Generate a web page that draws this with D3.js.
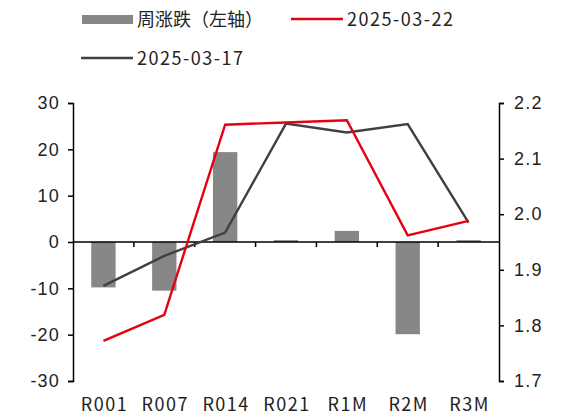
<!DOCTYPE html>
<html lang="zh">
<head>
<meta charset="UTF-8">
<title>周涨跌</title>
<style>
  body { margin: 0; background: #fff; }
  svg { display: block; font-family: "Noto Sans CJK SC", "Noto Sans", sans-serif; }
  .axis path, .axis line { stroke: #000; stroke-width: 1.5; }
  .axis text { font-size: 18px; fill: #222; letter-spacing: 1.2px; }
  .lat { letter-spacing: 1.5px; }
</style>
</head>
<body>
<svg width="561" height="416"></svg>
<script src="https://d3js.org/d3.v7.min.js"></script>
<script>
const categories = ["R001", "R007", "R014", "R021", "R1M", "R2M", "R3M"];
const weeklyChange = [-9.8, -10.5, 19.4, 0.4, 2.4, -19.9, 0.4];
const rate0322 = [1.772, 1.819, 2.161, 2.165, 2.169, 1.962, 1.988];
const rate0317 = [1.871, 1.925, 1.967, 2.163, 2.147, 2.162, 1.985];
const leftTicks = [-30, -20, -10, 0, 10, 20, 30];
const rightTicks = [1.7, 1.8, 1.9, 2.0, 2.1, 2.2];

const svg = d3.select("svg");
const plotL = 73, plotR = 499, plotT = 103, plotB = 381;

const x = d3.scaleBand().domain(categories).range([plotL, plotR]);
const yL = d3.scaleLinear().domain([-30, 30]).range([plotB, plotT]);
const yR = d3.scaleLinear().domain([1.7, 2.2]).range([plotB, plotT]);

// bars
svg.selectAll("rect.bar")
  .data(weeklyChange)
  .enter().append("rect")
  .attr("class", "bar")
  .attr("x", (d, i) => x(categories[i]) + x.bandwidth() * 0.3)
  .attr("width", x.bandwidth() * 0.4)
  .attr("y", d => yL(Math.max(0, d)))
  .attr("height", d => Math.abs(yL(d) - yL(0)))
  .attr("fill", "#878787");

// zero baseline with category ticks
svg.append("line")
  .attr("x1", plotL).attr("x2", plotR)
  .attr("y1", yL(0)).attr("y2", yL(0))
  .attr("stroke", "#000").attr("stroke-width", 1.5);
svg.selectAll("line.xtick")
  .data(categories.slice(1))
  .enter().append("line")
  .attr("class", "xtick")
  .attr("x1", d => x(d)).attr("x2", d => x(d))
  .attr("y1", yL(0)).attr("y2", yL(0) + 5)
  .attr("stroke", "#000").attr("stroke-width", 1.5);

// x labels
svg.selectAll("text.xlab")
  .data(categories)
  .enter().append("text")
  .attr("class", "xlab lat")
  .attr("x", d => x(d) + x.bandwidth() / 2 + 1)
  .attr("y", 411)
  .attr("text-anchor", "middle")
  .attr("font-size", 18)
  .attr("fill", "#222")
  .text(d => d);

// axes
svg.append("g").attr("class", "axis")
  .attr("transform", `translate(${plotL},0)`)
  .call(d3.axisLeft(yL).tickValues(leftTicks).tickSize(5).tickPadding(8).tickFormat(d => String(d)));
svg.append("g").attr("class", "axis")
  .attr("transform", `translate(${plotR},0)`)
  .call(d3.axisRight(yR).tickValues(rightTicks).tickSize(5).tickPadding(10).tickFormat(d3.format(".1f")));

// lines
const cx = c => x(c) + x.bandwidth() / 2;
const line = d3.line().x((d, i) => cx(categories[i])).y(d => yR(d));
svg.append("path").datum(rate0317)
  .attr("d", line).attr("fill", "none")
  .attr("stroke", "#404040").attr("stroke-width", 2.4);
svg.append("path").datum(rate0322)
  .attr("d", line).attr("fill", "none")
  .attr("stroke", "#e60012").attr("stroke-width", 2.4);

// legend
const lg = svg.append("g").attr("font-size", 18).attr("fill", "#222");
lg.append("rect").attr("x", 82).attr("y", 15).attr("width", 51).attr("height", 9).attr("fill", "#878787");
lg.append("text").attr("x", 137).attr("y", 26).text("周涨跌（左轴）");
lg.append("line").attr("x1", 291).attr("x2", 343).attr("y1", 19).attr("y2", 19)
  .attr("stroke", "#e60012").attr("stroke-width", 2.6);
lg.append("text").attr("class", "lat").attr("x", 347).attr("y", 26).text("2025-03-22");
lg.append("line").attr("x1", 81).attr("x2", 133).attr("y1", 58).attr("y2", 58)
  .attr("stroke", "#404040").attr("stroke-width", 2.6);
lg.append("text").attr("class", "lat").attr("x", 137).attr("y", 65).text("2025-03-17");
</script>
</body>
</html>
